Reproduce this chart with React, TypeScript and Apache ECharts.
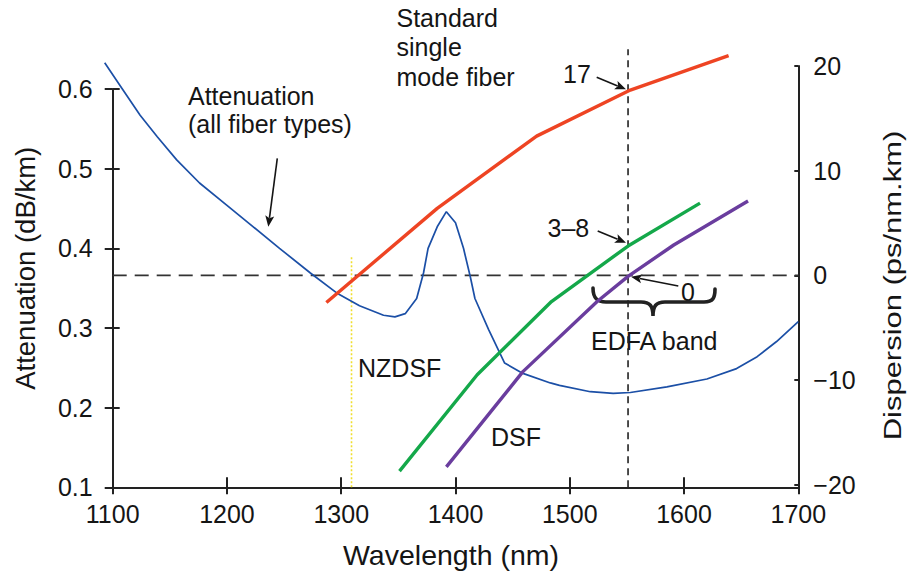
import React, { useEffect, useRef } from 'react';
import * as echarts from 'echarts';

// ---- data ----
const xTicks = [1100, 1200, 1300, 1400, 1500, 1600, 1700];
const attTicks = [0.1, 0.2, 0.3, 0.4, 0.5, 0.6];
const dispTicks = [-20, -10, 0, 10, 20];

const attWavelength = [1093, 1108, 1124, 1139, 1156, 1176, 1200, 1223, 1246, 1273, 1296, 1316, 1337, 1347, 1356, 1366, 1372, 1376, 1384, 1392, 1400, 1407, 1413, 1417, 1429, 1443, 1459, 1483, 1491, 1518, 1538, 1553, 1585, 1620, 1646, 1664, 1681, 1700];
const attenuation = [0.633, 0.601, 0.567, 0.540, 0.511, 0.482, 0.454, 0.427, 0.400, 0.369, 0.344, 0.328, 0.316, 0.314, 0.318, 0.337, 0.369, 0.400, 0.427, 0.446, 0.432, 0.400, 0.364, 0.337, 0.298, 0.256, 0.243, 0.231, 0.228, 0.220, 0.218, 0.219, 0.226, 0.236, 0.249, 0.264, 0.283, 0.308];

const ssmfWavelength = [1287, 1384, 1471, 1553, 1639];
const ssmfDispersion = [-2.6, 6.4, 13.3, 17.7, 21.0];

const nzdsfWavelength = [1351, 1419, 1484, 1551, 1614];
const nzdsfDispersion = [-18.7, -9.5, -2.5, 2.8, 6.9];

const dsfWavelength = [1392, 1459, 1524, 1551, 1591, 1656];
const dsfDispersion = [-18.3, -9.2, -2.5, -0.1, 2.9, 7.1];

const edfaWavelength = 1551;
const nzdsfMarkerWavelength = 1309;
const nzdsfMarkerTop = 0.39;

const FONT = '"Liberation Sans", Arial, Helvetica, sans-serif';
const INK = '#151515';

const zip = (xs: number[], ys: number[]) => xs.map((x, i) => [x, ys[i]]);

const BRACE_D =
  'M593 288 C593 298 597 302 606 302 L641 302 C650 302 653 306 653 316 C653 306 656 302 665 302 L704 302 C713 302 715 298 715 289';

let braceRegistered = false;

// plot geometry (pixels)
const PLOT_LEFT = 112.7;
const PLOT_RIGHT = 109.7;
const PX_PER_NM = (908 - PLOT_LEFT - PLOT_RIGHT) / 600;

function arrow(x1: number, y1: number, x2: number, y2: number, head = 11, half = 4.5) {
  const dx = x2 - x1;
  const dy = y2 - y1;
  const len = Math.sqrt(dx * dx + dy * dy);
  const ux = dx / len;
  const uy = dy / len;
  const bx = x2 - ux * head;
  const by = y2 - uy * head;
  const nx = -uy;
  const ny = ux;
  return [
    {
      type: 'line',
      shape: { x1, y1, x2: bx + ux * 2, y2: by + uy * 2 },
      style: { stroke: INK, lineWidth: 1.6 },
      silent: true,
    },
    {
      type: 'polygon',
      shape: {
        points: [
          [x2, y2],
          [bx + nx * half, by + ny * half],
          [bx + ux * 2.5, by + uy * 2.5],
          [bx - nx * half, by - ny * half],
        ],
      },
      style: { fill: INK },
      silent: true,
    },
  ];
}

function label(text: string, x: number, y: number, size = 25, extra: any = {}) {
  return {
    type: 'text',
    x,
    y,
    silent: true,
    ...extra,
    style: {
      text,
      fill: INK,
      font: `${size}px ${FONT}`,
      align: extra.align || 'left',
      verticalAlign: 'middle',
    },
  };
}

export default function App() {
  const ref = useRef<HTMLDivElement>(null);

  useEffect(() => {
    if (!ref.current) return;
    if (!braceRegistered) {
      echarts.graphic.registerShape('brace', echarts.graphic.extendPath(BRACE_D, {}));
      braceRegistered = true;
    }
    const chart = echarts.init(ref.current, undefined, { renderer: 'svg' });

    const axisLine = { show: true, onZero: false, lineStyle: { color: '#222', width: 2 } };
    const tickLabel = { color: INK, fontSize: 25, fontFamily: FONT };
    const attStart = attWavelength[0];

    const option: any = {
      animation: false,
      backgroundColor: '#ffffff',
      textStyle: { fontFamily: FONT },
      grid: [
        { left: PLOT_LEFT, right: PLOT_RIGHT, top: 89, bottom: 83.7, containLabel: false, outerBoundsMode: 'none' },
        { left: PLOT_LEFT, right: PLOT_RIGHT, top: 66, bottom: 83.7, containLabel: false, outerBoundsMode: 'none' },
        {
          left: PLOT_LEFT - (1100 - attStart) * PX_PER_NM,
          right: PLOT_RIGHT,
          top: 89,
          bottom: 83.7,
          containLabel: false,
          outerBoundsMode: 'none',
        },
      ],
      xAxis: [
        {
          type: 'value',
          gridIndex: 0,
          position: 'bottom',
          min: 1100,
          max: 1700,
          interval: 100,
          axisLine,
          axisTick: { show: true, inside: false, length: 7, lineStyle: { color: '#222', width: 2 } },
          axisLabel: { ...tickLabel, margin: 14, formatter: (v: number) => String(v) },
          splitLine: { show: false },
        },
        {
          type: 'value',
          gridIndex: 1,
          position: 'bottom',
          min: 1100,
          max: 1700,
          show: false,
          axisLine: { show: false, onZero: false },
          splitLine: { show: false },
        },
        {
          type: 'value',
          gridIndex: 0,
          position: 'bottom',
          min: 1100,
          max: 1700,
          interval: 100,
          axisLine: { show: false, onZero: false },
          axisTick: { show: true, inside: true, length: 10, lineStyle: { color: '#222', width: 2 } },
          axisLabel: { show: false },
          splitLine: { show: false },
        },
        {
          type: 'value',
          gridIndex: 2,
          position: 'bottom',
          min: attStart,
          max: 1700,
          show: false,
          axisLine: { show: false, onZero: false },
          splitLine: { show: false },
        },
      ],
      yAxis: [
        {
          type: 'value',
          gridIndex: 0,
          position: 'left',
          min: 0.1,
          max: 0.6,
          axisLine,
          axisTick: { show: true, inside: false, length: 8, customValues: attTicks, lineStyle: { color: '#222', width: 2 } },
          axisLabel: { ...tickLabel, margin: 20, customValues: attTicks, formatter: (v: number) => v.toFixed(1) },
          splitLine: { show: false },
        },
        {
          type: 'value',
          gridIndex: 1,
          position: 'right',
          min: -20.25,
          max: 20,
          axisLine,
          axisTick: { show: true, inside: true, length: 4, customValues: dispTicks, lineStyle: { color: '#222', width: 2 } },
          axisLabel: {
            ...tickLabel,
            margin: 15,
            customValues: dispTicks,
            formatter: (v: number) => (v < 0 ? '\u2212' + Math.abs(v) : String(v)),
          },
          splitLine: { show: false },
        },
        {
          type: 'value',
          gridIndex: 0,
          position: 'left',
          min: 0.1,
          max: 0.6,
          axisLine: { show: false, onZero: false },
          axisTick: { show: true, inside: true, length: 7, customValues: attTicks, lineStyle: { color: '#222', width: 2 } },
          axisLabel: { show: false, customValues: attTicks },
          splitLine: { show: false },
        },
        {
          type: 'value',
          gridIndex: 2,
          position: 'left',
          min: 0.1,
          max: 0.6,
          show: false,
          axisLine: { show: false, onZero: false },
          splitLine: { show: false },
        },
      ],
      series: [
        {
          name: 'Zero dispersion',
          type: 'line',
          xAxisIndex: 1,
          yAxisIndex: 1,
          data: [[1100, 0], [1700, 0]],
          symbol: 'none',
          silent: true,
          lineStyle: { color: '#333', width: 1.6, type: [14, 8] },
          z: 1,
        },
        {
          name: 'EDFA centre',
          type: 'line',
          xAxisIndex: 1,
          yAxisIndex: 1,
          data: [[edfaWavelength, -20.25], [edfaWavelength, 21.6]],
          symbol: 'none',
          silent: true,
          clip: false,
          lineStyle: { color: '#222', width: 1.6, type: [7, 5] },
          z: 1,
        },
        {
          name: 'NZDSF marker',
          type: 'line',
          xAxisIndex: 0,
          yAxisIndex: 0,
          data: [[nzdsfMarkerWavelength, 0.1], [nzdsfMarkerWavelength, nzdsfMarkerTop]],
          symbol: 'none',
          silent: true,
          lineStyle: { color: '#f0df30', width: 1.6, type: [2, 2] },
          z: 1,
        },
        {
          name: 'Attenuation',
          type: 'line',
          xAxisIndex: 3,
          yAxisIndex: 3,
          data: zip(attWavelength, attenuation),
          symbol: 'none',
          clip: false,
          lineStyle: { color: '#1b4fa6', width: 1.7 },
          z: 2,
        },
        {
          name: 'Standard single mode fiber',
          type: 'line',
          xAxisIndex: 1,
          yAxisIndex: 1,
          data: zip(ssmfWavelength, ssmfDispersion),
          symbol: 'none',
          clip: false,
          lineStyle: { color: '#ee4423', width: 3.4 },
          z: 3,
        },
        {
          name: 'NZDSF',
          type: 'line',
          xAxisIndex: 1,
          yAxisIndex: 1,
          data: zip(nzdsfWavelength, nzdsfDispersion),
          symbol: 'none',
          clip: false,
          lineStyle: { color: '#14a84a', width: 3.4 },
          z: 3,
        },
        {
          name: 'DSF',
          type: 'line',
          xAxisIndex: 1,
          yAxisIndex: 1,
          data: zip(dsfWavelength, dsfDispersion),
          symbol: 'none',
          clip: false,
          lineStyle: { color: '#6a3d9e', width: 3.4 },
          z: 3,
        },
      ],
      graphic: [
        // axis titles
        label('Attenuation (dB/km)', 25, 268.3, 27.5, { rotation: Math.PI / 2, align: 'center' }),
        label('Dispersion (ps/nm.km)', 893, 285.5, 24, { rotation: Math.PI / 2, scaleX: 1.29, align: 'center' }),
        label('Wavelength (nm)', 451, 555, 28.5, { align: 'center' }),
        // annotations
        label('Attenuation', 188, 95.5),
        label('(all fiber types)', 188, 123.5),
        ...arrow(277.3, 158.3, 268.3, 226.7),
        label('Standard', 396.5, 18),
        label('single', 396.5, 47),
        label('mode fiber', 396.5, 76.5),
        label('17', 563, 74),
        ...arrow(596.7, 77.3, 626, 89.3),
        label('3\u20138', 547.5, 228),
        ...arrow(597.7, 231, 626, 242.7),
        label('0', 681, 292),
        ...arrow(678.3, 286, 631, 276.7),
        {
          type: 'brace',
          x: 0,
          y: 0,
          silent: true,
          style: { stroke: '#222', lineWidth: 3.6, fill: 'none', lineCap: 'round' },
        },
        label('EDFA band', 591, 341),
        label('NZDSF', 358, 367.5),
        label('DSF', 491, 437),
      ],
    };

    chart.setOption(option);
    return () => {
      chart.dispose();
    };
  }, []);

  return (
    <div
      ref={ref}
      style={{ position: 'fixed', left: 0, top: 0, width: 908, height: 571, background: '#fff' }}
    />
  );
}
